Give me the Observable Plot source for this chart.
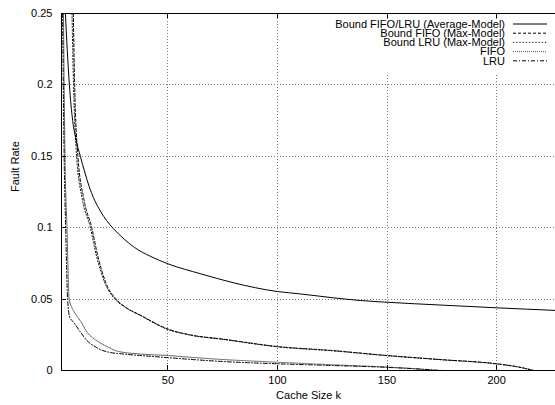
<!DOCTYPE html>
<html><head><meta charset="utf-8">
<script src="https://cdn.jsdelivr.net/npm/d3@7"></script>
<script src="https://cdn.jsdelivr.net/npm/@observablehq/plot@0.6"></script>
<style>html,body{margin:0;padding:0;background:#fff;} svg{display:block}</style>
</head><body><div id="chart"></div>
<script>
const seriesNames = ["Bound FIFO/LRU (Average-Model)", "Bound FIFO (Max-Model)", "Bound LRU (Max-Model)", "FIFO", "LRU"];
const boundAvg = [[3.2,0.25],[4,0.225],[5,0.2],[6.5,0.175],[8,0.162],[10,0.15],[12,0.139],[14,0.129],[16,0.121],[19.4,0.111],[22,0.105],[25,0.0995],[30,0.092],[34.6,0.0863],[42.2,0.0798],[50,0.0747],[65,0.0677],[80,0.0614],[100,0.0553],[110,0.0537],[125,0.051],[138,0.049],[150,0.0478],[175,0.0458],[200,0.0439],[228,0.042]];
const boundFifoMax = [[6.8,0.25],[7.4,0.2],[8.9,0.15],[11.6,0.12],[15.2,0.1],[18,0.08],[21.5,0.062],[26.3,0.05],[30,0.045],[37.7,0.0385],[50,0.029],[60,0.025],[75,0.022],[100,0.0168],[125,0.014],[150,0.0105],[175,0.0076],[200,0.0047],[210,0.0025],[217,0]];
const boundLruMax = [[6.2,0.25],[6.9,0.2],[8.3,0.15],[10.9,0.12],[14.6,0.1],[17.4,0.08],[21,0.062],[25.8,0.05],[30,0.0448],[37.7,0.0383],[50,0.0287],[60,0.0248],[75,0.0218],[100,0.0166],[125,0.0138],[150,0.0104],[175,0.0075],[200,0.0046],[210,0.0024],[217,0]];
const fifo = [[2.3,0.25],[3.0,0.15],[3.9,0.1],[4.9,0.05],[6.5,0.043],[8.5,0.038],[10.3,0.034],[13,0.027],[16.4,0.022],[19.4,0.019],[22.5,0.0165],[27,0.0135],[37.7,0.0115],[50,0.0105],[60,0.0093],[75,0.0077],[100,0.0058],[125,0.004],[150,0.0024],[165,0.001],[172,0]];
const lru = [[1.9,0.25],[2.6,0.15],[3.3,0.1],[4.2,0.05],[5.2,0.037],[6.2,0.035],[7.3,0.033],[10,0.027],[13,0.021],[17.2,0.0163],[19.4,0.0145],[22.5,0.013],[30,0.0115],[40,0.0102],[50,0.009],[60,0.0078],[75,0.0063],[100,0.0047],[125,0.0035],[150,0.0022],[165,0.001],[175,0]];
const xTicks = [50, 100, 150, 200];
const yTicks = [0, 0.05, 0.1, 0.15, 0.2, 0.25];
const yTickLabels = ["0", "0.05", "0.1", "0.15", "0.2", "0.25"];
const xLabel = "Cache Size k";
const yLabel = "Fault Rate";
const xDomain = [1.4, 226.9];
const yDomain = [0, 0.25];

const styles = [
  {stroke: "#000", dash: undefined},
  {stroke: "#000", dash: "3,2"},
  {stroke: "#000", dash: "1.2,2"},
  {stroke: "#555", dash: "1,1"},
  {stroke: "#000", dash: "4,2,1,2"}
];
const series = [boundAvg, boundFifoMax, boundLruMax, fifo, lru];

const W = 555, H = 405, mL = 61, mR = 0, mT = 13, mB = 35;

const chart = Plot.plot({
  width: W, height: H,
  marginLeft: mL, marginRight: mR, marginTop: mT, marginBottom: mB,
  style: {fontFamily: "'Liberation Sans', Arial, sans-serif", fontSize: "11px", background: "#fff", color: "#000"},
  x: {domain: xDomain},
  y: {domain: yDomain},
  marks: [
    ...series.map((s, i) => Plot.line(s, {
      x: d => d[0], y: d => d[1],
      stroke: styles[i].stroke, strokeDasharray: styles[i].dash,
      strokeWidth: 1, curve: "monotone-x", clip: true
    })),
    Plot.axisX(xTicks, {tickSize: 0, tickPadding: 6, label: null}),
    Plot.axisY(yTicks, {tickSize: 0, tickPadding: 9, label: null, tickFormat: d => yTickLabels[yTicks.indexOf(d)]}),
    Plot.ruleY([yDomain[0]], {stroke: "#000"}),
    Plot.ruleY([yDomain[1]], {stroke: "#000"}),
    Plot.ruleX([xDomain[0]], {stroke: "#000"}),
    Plot.text([xLabel], {frameAnchor: "bottom", dy: 28}),
    Plot.text([yLabel], {frameAnchor: "left", rotate: -90, dx: -46})
  ]
});
document.getElementById("chart").appendChild(chart);

// grid and inward ticks, positioned through the chart's own scales (snapped to pixel centres)
const sx = chart.scale("x"), sy = chart.scale("y");
const snap = v => Math.round(v) + 0.5;
const x0 = sx.apply(xDomain[0]), x1 = W - mR;
const y0 = sy.apply(yDomain[0]), y1 = sy.apply(yDomain[1]);
const svg = d3.select(chart);
const firstLine = chart.querySelector('g[aria-label="line"]');
const g = d3.select(chart.insertBefore(document.createElementNS("http://www.w3.org/2000/svg", "g"), firstLine))
  .attr("shape-rendering", "crispEdges");
xTicks.forEach(v => {
  const px = snap(sx.apply(v));
  g.append("line").attr("x1", px).attr("x2", px).attr("y1", y0).attr("y2", y1)
    .attr("stroke", "#777").attr("stroke-width", 1).attr("stroke-dasharray", "1,2");
});
yTicks.forEach(v => {
  const py = snap(sy.apply(v));
  if (v > yDomain[0] && v < yDomain[1])
    g.append("line").attr("x1", x0).attr("x2", x1).attr("y1", py).attr("y2", py)
      .attr("stroke", "#777").attr("stroke-width", 1).attr("stroke-dasharray", "1,2");
});
// legend box clears the grid underneath, gnuplot style
g.append("rect").attr("x", 328).attr("y", y1 + 6).attr("width", 226).attr("height", 55).attr("fill", "#fff");

const t = svg.append("g").attr("shape-rendering", "crispEdges").attr("stroke", "#000");
xTicks.forEach(v => {
  const px = snap(sx.apply(v));
  t.append("line").attr("x1", px).attr("x2", px).attr("y1", y0).attr("y2", y0 - 5);
  t.append("line").attr("x1", px).attr("x2", px).attr("y1", y1).attr("y2", y1 + 5);
});
yTicks.forEach(v => {
  const py = snap(sy.apply(v));
  t.append("line").attr("x1", x0).attr("x2", x0 + 5).attr("y1", py).attr("y2", py);
});

const lg = svg.append("g").attr("font-family", "'Liberation Sans', Arial, sans-serif").attr("font-size", 11);
seriesNames.forEach((name, i) => {
  const y = 24 + 9.2 * i;
  lg.append("text").attr("x", 505).attr("y", y).attr("dy", "0.35em")
    .attr("text-anchor", "end").attr("fill", "#000").text(name);
  lg.append("line").attr("x1", 513).attr("x2", 547).attr("y1", y).attr("y2", y)
    .attr("stroke", styles[i].stroke).attr("stroke-width", 1)
    .attr("stroke-dasharray", styles[i].dash || null);
});
</script>
</body></html>
